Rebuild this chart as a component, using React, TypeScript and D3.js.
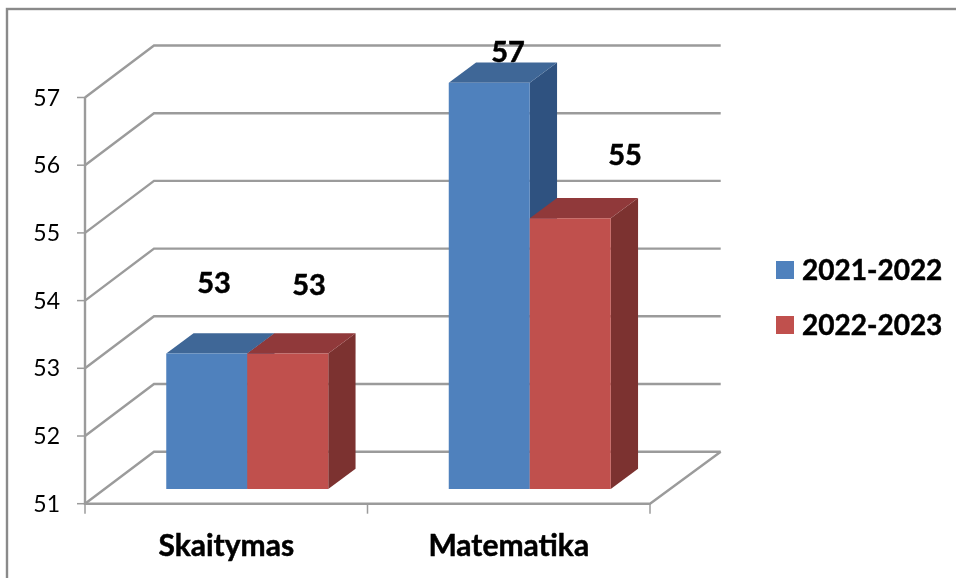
import React, {useRef, useEffect} from 'react'
import * as d3 from 'd3'

const categories = ['Skaitymas', 'Matematika']
const seriesNames = ['2021-2022', '2022-2023']
const series2021 = [53, 57]
const series2022 = [53, 55]
const yTicks = [51, 52, 53, 54, 55, 56, 57]

const seriesValues = [series2021, series2022]
// front, top, side shades of each series
const seriesColors = [
  ['#4f81bd', '#3f6797', '#2f5280'],
  ['#c0504d', '#90393a', '#7c3230']
]

const fontFamily = 'Lato, Carlito, sans-serif'
const gridColor = '#9b9b9b'

export default function App() {
  const container = useRef<SVGSVGElement>(null)

  useEffect(() => {
    const svg = d3.select(container.current)
    svg.selectAll('*').remove()

    // depth of the 3d box
    const depthX = 69
    const depthY = -52
    const barShiftX = 21
    const barShiftY = -14.7
    const barDepthX = 27.3
    const barDepthY = -20.3

    const y = d3.scaleLinear().domain([51, 57]).range([503.7, 97.5])
    const x = d3.scaleBand().domain(categories).range([85, 650])
    const inner = d3.scaleBand().domain(seriesNames).range([-81, 81])

    const boldText = (sel, size) =>
      sel
        .attr('font-family', fontFamily)
        .attr('font-weight', 700)
        .attr('font-size', size)
        .attr('fill', '#000')
        .attr('stroke', '#000')
        .attr('stroke-width', 0.5)

    svg
      .append('rect')
      .attr('x', 7)
      .attr('y', 9)
      .attr('width', 960)
      .attr('height', 590)
      .attr('fill', '#fff')
      .attr('stroke', '#8a8a8a')
      .attr('stroke-width', 2.4)

    const grid = svg
      .append('g')
      .attr('fill', 'none')
      .attr('stroke', gridColor)
      .attr('stroke-width', 2.4)

    // side wall and back wall lines
    yTicks.forEach(t => {
      grid
        .append('path')
        .attr(
          'd',
          d3.line()([
            [85, y(t)],
            [85 + depthX, y(t) + depthY],
            [650 + depthX + 1.7, y(t) + depthY]
          ])
        )
    })

    // floor edge + axes
    grid
      .append('path')
      .attr(
        'd',
        d3.line()([
          [85, y(57)],
          [85, y(51)],
          [650, y(51)],
          [650 + depthX + 1.7, y(51) + depthY]
        ])
      )

    const ticks = svg.append('g').attr('stroke', gridColor).attr('stroke-width', 1.5)
    yTicks.forEach(t => {
      ticks
        .append('line')
        .attr('x1', 77)
        .attr('x2', 85)
        .attr('y1', y(t))
        .attr('y2', y(t))
    })
    const xEdges = [85, 85 + x.step(), 85 + 2 * x.step()]
    xEdges.forEach(v => {
      ticks
        .append('line')
        .attr('x1', v)
        .attr('x2', v)
        .attr('y1', y(51))
        .attr('y2', y(51) + 10)
    })

    svg
      .append('g')
      .selectAll('text')
      .data(yTicks)
      .join('text')
      .attr('x', 60)
      .attr('y', d => y(d))
      .attr('dy', '0.35em')
      .attr('text-anchor', 'end')
      .attr('font-family', fontFamily)
      .attr('font-size', 23)
      .attr('fill', '#000')
      .text(d => d)

    // bars, back to front
    const bars = svg.append('g')
    categories.forEach((cat, i) => {
      const center = x(cat) + x.bandwidth() / 2 + barShiftX
      seriesNames.forEach((name, s) => {
        const value = seriesValues[s][i]
        const left = center + inner(name)
        const right = left + inner.bandwidth()
        const top = y(value) + barShiftY
        const bottom = y(51) + barShiftY
        const colors = seriesColors[s]

        const poly = (pts, fill) =>
          bars
            .append('path')
            .attr('d', d3.line()(pts) + 'Z')
            .attr('fill', fill)

        poly(
          [
            [right, top],
            [right + barDepthX, top + barDepthY],
            [right + barDepthX, bottom + barDepthY],
            [right, bottom]
          ],
          colors[2]
        )
        poly(
          [
            [left, top],
            [left + barDepthX, top + barDepthY],
            [right + barDepthX, top + barDepthY],
            [right, top]
          ],
          colors[1]
        )
        poly(
          [
            [left, top],
            [right, top],
            [right, bottom],
            [left, bottom]
          ],
          colors[0]
        )
      })
    })

    // hand placed data labels, as in the source chart
    const labels = svg.append('g')
    const label = (px, py, text) =>
      boldText(
        labels
          .append('text')
          .attr('x', px)
          .attr('y', py)
          .attr('dy', '0.35em')
          .attr('text-anchor', 'middle'),
        29
      ).text(text)
    label(214, 283, series2021[0])
    label(309, 285, series2022[0])
    label(508, 52, series2021[1])
    label(625, 155, series2022[1])

    boldText(
      svg
        .append('g')
        .selectAll('text')
        .data(categories)
        .join('text')
        .attr('x', d => x(d) + x.bandwidth() / 2)
        .attr('y', 545)
        .attr('dy', '0.35em')
        .attr('text-anchor', 'middle'),
      30
    ).text(d => d)

    const legend = svg
      .append('g')
      .selectAll('g')
      .data(seriesNames)
      .join('g')
      .attr('transform', (d, i) => `translate(776, ${261 + i * 55})`)
    legend
      .append('rect')
      .attr('width', 18)
      .attr('height', 18)
      .attr('fill', (d, i) => seriesColors[i][0])
    boldText(
      legend
        .append('text')
        .attr('x', 26)
        .attr('y', 9)
        .attr('dy', '0.35em'),
      28
    ).text(d => d)
  }, [])

  return (
    <svg
      ref={container}
      width={956}
      height={578}
      style={{position: 'fixed', left: 0, top: 0, display: 'block', filter: 'blur(0.4px)'}}
    />
  )
}
